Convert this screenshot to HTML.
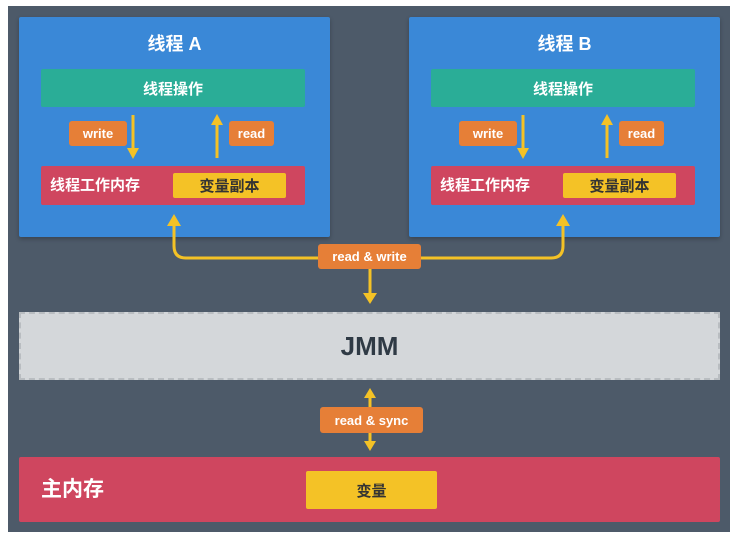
<!DOCTYPE html>
<html><head><meta charset="utf-8"><style>
body{margin:0;width:738px;height:540px;background:#fff;position:relative;overflow:hidden;font-family:"Liberation Sans","Noto Sans CJK SC",sans-serif;font-weight:bold}
div{position:absolute;box-sizing:border-box}
.c{display:flex;align-items:center;justify-content:center}
.blue{background:#3a88d7;border-radius:2px;box-shadow:0 2px 4px rgba(0,0,0,.25)}
.green{background:#2aad97;color:#fff;font-size:15px;border-radius:2px}
.red{background:#cf465f;color:#fff;border-radius:2px}
.org{background:#e67f37;color:#fff;font-size:13px;border-radius:3px}
.yel{background:#f4c226;color:#333;border-radius:2px}
</style></head><body>
<div style="left:8px;top:6px;width:722px;height:526px;background:#4d5a69"></div>

<div class="blue" style="left:19px;top:17px;width:311px;height:220px"></div>
<div class="c" style="left:19px;top:30px;width:311px;height:26px;color:#fff;font-size:18px">线程 A</div>
<div class="green c" style="left:41px;top:69px;width:264px;height:38px">线程操作</div>
<div class="org c" style="left:69px;top:121px;width:58px;height:25px">write</div>
<div class="org c" style="left:229px;top:121px;width:45px;height:25px">read</div>
<div class="red" style="left:41px;top:166px;width:264px;height:39px;font-size:15px;line-height:39px;padding-left:9px">线程工作内存</div>
<div class="yel c" style="left:173px;top:173px;width:113px;height:25px;font-size:15px">变量副本</div>

<div class="blue" style="left:409px;top:17px;width:311px;height:220px"></div>
<div class="c" style="left:409px;top:30px;width:311px;height:26px;color:#fff;font-size:18px">线程 B</div>
<div class="green c" style="left:431px;top:69px;width:264px;height:38px">线程操作</div>
<div class="org c" style="left:459px;top:121px;width:58px;height:25px">write</div>
<div class="org c" style="left:619px;top:121px;width:45px;height:25px">read</div>
<div class="red" style="left:431px;top:166px;width:264px;height:39px;font-size:15px;line-height:39px;padding-left:9px">线程工作内存</div>
<div class="yel c" style="left:563px;top:173px;width:113px;height:25px;font-size:15px">变量副本</div>

<div class="c" style="left:19px;top:312px;width:701px;height:68px;background:#d4d7da;border:2px dashed #b9bdc1;font-size:26px;color:#2f3a45">JMM</div>

<div class="red" style="left:19px;top:457px;width:701px;height:65px;font-size:21px;line-height:65px;padding-left:22px">主内存</div>
<div class="yel c" style="left:306px;top:471px;width:131px;height:38px;font-size:15px">变量</div>

<svg style="position:absolute;left:0;top:0" width="738" height="540">
<g stroke="#f4c226" stroke-width="3" fill="none">
<path d="M133 115V150M217 158V123M523 115V150M607 158V123"/>
<path d="M174 222V246Q174 258 186 258H551Q563 258 563 246V222"/>
<path d="M370 268V296M370 396V445"/>
</g>
<g fill="#f4c226">
<path d="M127 148H139L133 159Z"/><path d="M211 125H223L217 114Z"/>
<path d="M517 148H529L523 159Z"/><path d="M601 125H613L607 114Z"/>
<path d="M167 226H181L174 214Z"/><path d="M556 226H570L563 214Z"/>
<path d="M363 293H377L370 304Z"/>
<path d="M364 398H376L370 388Z"/><path d="M364 441H376L370 451Z"/>
</g>
</svg>
<div class="org c" style="left:318px;top:244px;width:103px;height:25px">read &amp; write</div>
<div class="org c" style="left:320px;top:407px;width:103px;height:26px">read &amp; sync</div>
</body></html>
